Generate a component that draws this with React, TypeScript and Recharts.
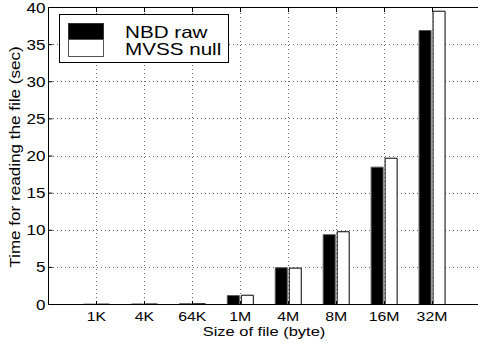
import { BarChart, Bar, XAxis, YAxis, CartesianGrid, ReferenceLine } from 'recharts'

const sizes = ['1K', '4K', '64K', '1M', '4M', '8M', '16M', '32M']
const nbdRaw = [0.05, 0.07, 0.1, 1.2, 4.95, 9.4, 18.5, 36.9]
const mvssNull = [0.05, 0.07, 0.1, 1.25, 4.9, 9.8, 19.7, 39.5]
const yTicks = [0, 5, 10, 15, 20, 25, 30, 35, 40]

const data = sizes.map((s, i) => ({ size: s, nbd: nbdRaw[i], mvss: mvssNull[i] }))

const FONT = '"Liberation Sans", Arial, Helvetica, sans-serif'
// text in the original is a bit wider than plain Helvetica
const STRETCH = 1.22
const TOP = 7.5
const AXIS_Y = 304.5

function XTick({ x, y, payload }: any) {
  return (
    <g shapeRendering="crispEdges">
      {/* dotted vertical grid line at each category, plus inward tick marks */}
      <line x1={x} x2={x} y1={TOP + 1} y2={AXIS_Y} stroke="#666" strokeWidth={1} strokeDasharray="1 3" />
      <line x1={x} x2={x} y1={AXIS_Y} y2={AXIS_Y - 4} stroke="#000" />
      <line x1={x} x2={x} y1={TOP} y2={TOP + 4} stroke="#000" />
      <text
        transform={`translate(${x},${y}) scale(${STRETCH},1)`}
        textAnchor="middle"
        fontFamily={FONT}
        fontSize={13}
        fill="#000"
        shapeRendering="auto"
      >
        {payload.value}
      </text>
    </g>
  )
}

function YTick({ x, y, payload }: any) {
  return (
    <text
      transform={`translate(${x},${y}) scale(${STRETCH},1)`}
      textAnchor="end"
      dy="0.36em"
      fontFamily={FONT}
      fontSize={14}
      fill="#000"
    >
      {payload.value}
    </text>
  )
}

function LegendBox() {
  const line = (label: string, top: number) => (
    <div
      style={{
        position: 'absolute',
        left: 65,
        top,
        fontSize: 16.5,
        lineHeight: '17px',
        whiteSpace: 'nowrap',
        transform: `scaleX(1.25)`,
        transformOrigin: 'left',
      }}
    >
      {label}
    </div>
  )
  return (
    <div
      style={{
        position: 'absolute',
        left: 59,
        top: 14,
        width: 168,
        height: 47,
        border: '1px solid #000',
        background: '#fff',
        fontFamily: FONT,
        color: '#000',
      }}
    >
      <div style={{ position: 'absolute', left: 8, top: 8, width: 34, height: 15, background: '#000', border: '1px solid #333' }} />
      <div style={{ position: 'absolute', left: 8, top: 24, width: 34, height: 16, background: '#fff', border: '1px solid #555' }} />
      {line('NBD raw', 9)}
      {line('MVSS null', 26)}
    </div>
  )
}

export default function App() {
  return (
    <div style={{ position: 'absolute', left: 0, top: 0, width: 478, height: 345, overflow: 'hidden', background: '#fff' }}>
      <BarChart
        width={490}
        height={345}
        data={data}
        margin={{ top: TOP, right: 10, bottom: 0.5, left: 0.5 }}
        barSize={12}
        barGap={2}
      >
        <CartesianGrid stroke="#666" strokeDasharray="1 3" vertical={false} shapeRendering="crispEdges" />
        <XAxis
          dataKey="size"
          height={40}
          padding={{ left: 24, right: 24 }}
          stroke="#000"
          tickLine={false}
          tickSize={6}
          tickMargin={10}
          interval={0}
          tick={<XTick />}
        />
        <YAxis
          domain={[0, 40]}
          ticks={yTicks}
          width={48}
          stroke="#000"
          tickSize={-4}
          tickMargin={7}
          interval={0}
          tick={<YTick />}
        />
        <ReferenceLine y={40} stroke="#000" />
        <Bar dataKey="nbd" fill="#000" stroke="#555" isAnimationActive={false} />
        <Bar dataKey="mvss" fill="#fff" stroke="#000" isAnimationActive={false} />
      </BarChart>
      <svg width={478} height={345} style={{ position: 'absolute', left: 0, top: 0, pointerEvents: 'none' }}>
        <text
          transform={`translate(20,157) rotate(-90) scale(${STRETCH},1)`}
          textAnchor="middle"
          fontFamily={FONT}
          fontSize={14}
          fill="#000"
        >
          Time for reading the file (sec)
        </text>
        <text
          transform={`translate(264,335.5) scale(${STRETCH},1)`}
          textAnchor="middle"
          fontFamily={FONT}
          fontSize={13.5}
          fill="#000"
        >
          Size of file (byte)
        </text>
      </svg>
      <LegendBox />
    </div>
  )
}
